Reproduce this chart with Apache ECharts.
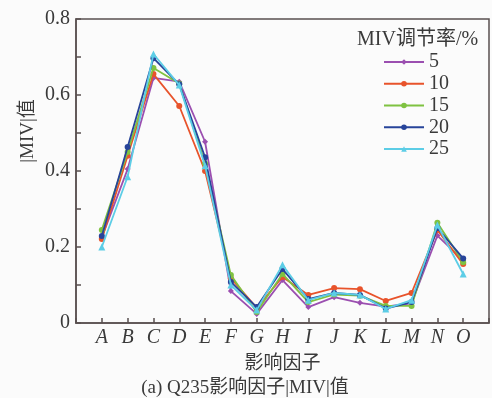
<!DOCTYPE html>
<html><head><meta charset="utf-8">
<script src="https://cdn.jsdelivr.net/npm/echarts@6/dist/echarts.min.js"></script>
<style>html,body{margin:0;padding:0;background:#fbfbfb}#c{width:492px;height:398px}</style>
</head><body><div id="c"></div>
<script>
const categories = ['A','B','C','D','E','F','G','H','I','J','K','L','M','N','O'];
const seriesNames = ['5','10','15','20','25'];
const rate5  = [0.225,0.405,0.645,0.635,0.477,0.084,0.024,0.113,0.042,0.068,0.053,0.043,0.052,0.230,0.165];
const rate10 = [0.221,0.440,0.655,0.571,0.400,0.118,0.040,0.121,0.074,0.092,0.089,0.058,0.079,0.245,0.155];
const rate15 = [0.245,0.450,0.671,0.630,0.420,0.126,0.029,0.129,0.055,0.075,0.072,0.045,0.045,0.264,0.160];
const rate20 = [0.229,0.463,0.697,0.628,0.436,0.108,0.042,0.142,0.063,0.079,0.074,0.038,0.055,0.250,0.170];
const rate25 = [0.200,0.385,0.708,0.626,0.414,0.100,0.034,0.153,0.060,0.079,0.074,0.037,0.060,0.258,0.129];
const allValues = [rate5, rate10, rate15, rate20, rate25];
const colors = ['#9b4fb0','#e8532b','#7fc241','#27449a','#5ccde6'];
const symbols = ['diamond','circle','circle','circle','triangle'];

const FONT = '"Liberation Serif","Noto Sans CJK SC",serif';
const TXT = '#3a3a3a';
const FRAME = '#5a5050';

const chart = echarts.init(document.getElementById('c'));
chart.setOption({
  backgroundColor: '#fbfbfb',
  animation: false,
  grid: {left: 76, top: 19, right: -3, bottom: 75, show: true, borderColor: FRAME, borderWidth: 1.5, backgroundColor: 'transparent'},
  xAxis: {
    type: 'value', min: 0, max: categories.length + 1, interval: 1,
    axisLine: {lineStyle: {color: FRAME, width: 1.5}},
    axisTick: {inside: true, length: 5, lineStyle: {color: FRAME, width: 1.5}},
    splitLine: {show: false},
    axisLabel: {fontFamily: FONT, fontSize: 20, color: TXT, fontStyle: 'italic', margin: 5,
      formatter: v => categories[v - 1] || ''},
    name: '影响因子', nameLocation: 'middle', nameGap: 32,
    nameTextStyle: {fontFamily: FONT, fontSize: 19, color: TXT}
  },
  yAxis: {
    type: 'value', min: 0, max: 0.8, interval: 0.1,
    axisLine: {show: true, lineStyle: {color: FRAME, width: 1.5}},
    axisTick: {show: true, inside: true, length: 5, lineStyle: {color: FRAME, width: 1.5}},
    splitLine: {show: false},
    axisLabel: {fontFamily: FONT, fontSize: 20, color: TXT, margin: 6,
      formatter: v => { const k = Math.round(v * 10); if (k % 2) return ''; return k === 0 ? '0' : v.toFixed(1); }}
  },
  legend: {
    orient: 'vertical', left: 383, top: 52, padding: 0,
    itemWidth: 40, itemHeight: 7, itemGap: 1.75,
    data: seriesNames,
    textStyle: {fontFamily: FONT, fontSize: 20, color: TXT, lineHeight: 20}
  },
  graphic: [
    {type: 'text', left: 357, top: 30, style: {text: 'MIV调节率/%', font: '20px ' + FONT, fill: TXT}},
    {type: 'text', x: 28, y: 131, rotation: Math.PI / 2, style: {text: '|MIV|值', font: '19px ' + FONT, fill: TXT, align: 'center', verticalAlign: 'middle'}},
    {type: 'text', x: 245, y: 388, style: {text: '(a) Q235影响因子|MIV|值', font: '19px ' + FONT, fill: TXT, align: 'center', verticalAlign: 'middle'}}
  ],
  series: allValues.map((vals, i) => ({
    name: seriesNames[i], type: 'line',
    data: vals.map((v, j) => [j + 1, v]),
    symbol: symbols[i], symbolSize: i === 4 ? 7 : 6,
    lineStyle: {width: 1.8, color: colors[i]},
    itemStyle: {color: colors[i]},
    z: 2 + i
  }))
});
</script></body></html>
